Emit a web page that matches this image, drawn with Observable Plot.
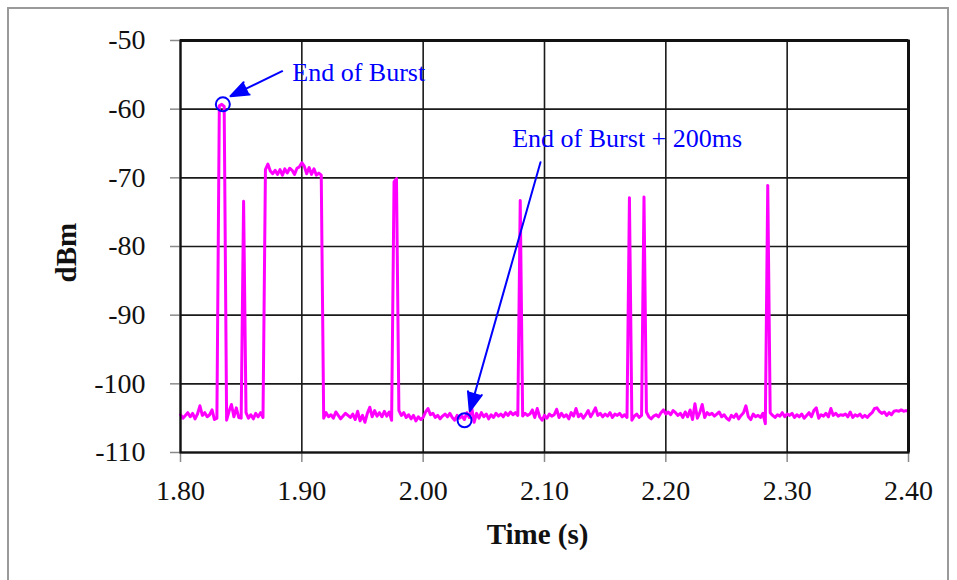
<!DOCTYPE html>
<html>
<head>
<meta charset="utf-8">
<script src="https://cdn.jsdelivr.net/npm/d3@7"></script>
<script src="https://cdn.jsdelivr.net/npm/@observablehq/plot@0.6"></script>
<style>
  html, body { margin: 0; padding: 0; background: #fff; }
  #chart { width: 957px; height: 580px; overflow: hidden; }
</style>
</head>
<body>
<div id="chart"></div>
<script>
// ---- Data ----
const t0 = 1.80;          // first sample time (s)
const dt = 0.002;         // sample spacing (s)
const dbm = [
  -104.5,-105,-104.6,-104.2,-104.8,-104.3,-105.1,-104.4,-103.2,-104.6,
  -104.2,-104.8,-104.5,-103.8,-105.2,-105.0,-59.5,-59.3,-59.6,-105.3,
  -104,-103,-104.8,-103.5,-104.9,-105,-73.4,-104.2,-105,-104.5,
  -105.1,-104.3,-104.8,-104.2,-104.9,-68.8,-68.0,-69.0,-69.4,-68.9,
  -69.5,-68.8,-69.6,-68.7,-69.3,-68.6,-68.9,-69.5,-68.6,-68.4,
  -67.8,-68.3,-69.4,-68.5,-69.5,-68.7,-69.6,-69.3,-69.6,-105.0,
  -104.2,-104.8,-104.5,-105,-104.1,-104.6,-105.1,-104.7,-104.3,-104.6,
  -104.9,-104.4,-105.2,-104,-105.4,-104.6,-105.6,-104.3,-103.4,-104.8,
  -103.9,-104.7,-104.2,-104.8,-104,-104.7,-104.1,-105.3,-70.6,-70.1,
  -103.9,-104.6,-104.2,-104.9,-104.5,-105.1,-104.6,-105.4,-104.8,-105.2,
  -104.9,-104.1,-103.6,-104.5,-104.3,-104.9,-104.6,-105.1,-104.7,-104.4,
  -104.8,-104.3,-104.9,-105.3,-104.6,-105,-104.7,-105.2,-104.2,-104.9,
  -103.5,-105.6,-104.3,-105,-104.2,-104.8,-104.4,-105.1,-104.5,-104.9,
  -104.3,-104.7,-104.4,-104.8,-104.2,-104.6,-104.1,-104.5,-104.2,-104.6,
  -73.3,-104.7,-104.3,-104.6,-104.4,-103.8,-104.9,-103.6,-104.8,-105.3,
  -104.6,-105,-104.4,-104.7,-104.5,-103.7,-104.9,-104.3,-104.8,-104.5,
  -105.1,-104.2,-104.7,-103.6,-104.8,-104.4,-105,-104.5,-103.9,-104.8,
  -104.2,-103.5,-104.6,-104.3,-104.8,-104.4,-104.7,-104.2,-104.9,-104.4,
  -104.6,-104.3,-104.8,-104.5,-104.9,-72.9,-105.3,-104.7,-104.4,-104.9,
  -104.6,-72.8,-104.1,-104.8,-105.1,-104.7,-104.5,-104.8,-104.2,-103.8,
  -104.4,-104.1,-104.5,-103.9,-104.2,-104.6,-104.3,-104.9,-104.1,-104.8,
  -103.8,-105.2,-102.9,-105,-104.2,-103,-104.9,-104.2,-104.5,-104.3,
  -104.7,-104.4,-104.1,-104.8,-104.5,-105,-105.3,-104.6,-104.9,-104.4,
  -105.1,-104.6,-104.2,-103.2,-104.8,-105.2,-104.4,-104.8,-104.6,-104.9,
  -104.3,-105.8,-71.1,-104.2,-104.6,-104.9,-104.5,-104.7,-104.2,-104.8,
  -104.4,-104.6,-104.3,-104.9,-104.5,-104.8,-104.4,-105,-104.6,-104.2,
  -104.8,-103.9,-103.5,-105,-104.5,-104.7,-104.3,-104.8,-103.6,-104.6,
  -104.3,-104.7,-104.5,-104.6,-104.4,-104.8,-104.1,-104.9,-104.5,-104.7,
  -104.4,-104.9,-104.6,-104.9,-104.5,-104.2,-103.6,-103.5,-104,-104.3,
  -104.1,-104.6,-104.2,-104.5,-104,-103.9,-104,-103.8,-104,-103.9,
  -104
];

const xTicks = [1.80, 1.90, 2.00, 2.10, 2.20, 2.30, 2.40];
const yTicks = [-110, -100, -90, -80, -70, -60, -50];

// annotations
const noteLabels   = ["End of Burst", "End of Burst + 200ms"];
const noteT        = [1.8921, 2.0734];
const noteDbm      = [-54.72, -64.23];
const markerT      = [1.8349, 2.0341];
const markerDbm    = [-59.3, -105.3];
const arrowFromT   = [1.8838, 2.0967];
const arrowFromDbm = [-54.47, -67.72];
const arrowToT     = [1.8412, 2.0384];
const arrowToDbm   = [-58.11, -103.98];

// ---- Tables ----
const signal = dbm.map((v, i) => ({t: t0 + i * dt, v}));
const notes = noteLabels.map((label, i) => ({label, t: noteT[i], v: noteDbm[i]}));
const markers = markerT.map((t, i) => ({t, v: markerDbm[i]}));
const arrows = arrowFromT.map((t, i) => ({
  x1: t, y1: arrowFromDbm[i], x2: arrowToT[i], y2: arrowToDbm[i]
}));

const serif = "'Liberation Serif', 'Times New Roman', Times, serif";
const blue = "#0000FF";

const chart = Plot.plot({
  width: 957,
  height: 580,
  marginLeft: 180,
  marginRight: 49,
  marginTop: 40,
  marginBottom: 128,
  style: {fontFamily: serif, fontSize: "28px", color: "#111", background: "#fff", overflow: "visible"},
  x: {domain: [1.80, 2.40]},
  y: {domain: [-110, -50]},
  marks: [
    Plot.gridX(xTicks, {stroke: "#1a1a1a", strokeOpacity: 1, strokeWidth: 1.6}),
    Plot.gridY(yTicks, {stroke: "#1a1a1a", strokeOpacity: 1, strokeWidth: 1.6}),
    Plot.axisX(xTicks, {tickSize: 10, tickPadding: 18, stroke: "#8a8a8a", strokeWidth: 1.5,
      tickFormat: d => d.toFixed(2), label: null, fill: "#111"}),
    Plot.axisY(yTicks, {tickSize: 10, tickPadding: 25, stroke: "#8a8a8a", strokeWidth: 1.5,
      tickFormat: d => String(d), label: null, fill: "#111"}),
    Plot.line(signal, {x: "t", y: "v", stroke: "#FF00FF", strokeWidth: 3, strokeLinejoin: "round"}),
    Plot.frame({stroke: "#111", strokeWidth: 2.2}),
    Plot.ruleY([-50], {stroke: "#111", strokeWidth: 3}),
    Plot.ruleX([2.40], {stroke: "#111", strokeWidth: 3}),
    Plot.dot(markers, {x: "t", y: "v", r: 7, stroke: blue, strokeWidth: 2, fill: "none"}),
    Plot.arrow(arrows, {x1: "x1", y1: "y1", x2: "x2", y2: "y2", stroke: blue, fill: blue,
      strokeWidth: 2, headLength: 15, headAngle: 42}),
    Plot.text(notes, {x: "t", y: "v", text: "label", fill: blue, fontSize: 26,
      textAnchor: "start", lineAnchor: "middle"}),
    Plot.text(["Time (s)"], {frameAnchor: "bottom", dx: -7, dy: 82, fontSize: 29,
      fontWeight: "bold", fill: "#111", lineAnchor: "middle"}),
    Plot.text(["dBm"], {frameAnchor: "left", dx: -114, dy: 36, rotate: -90, fontSize: 29,
      fontWeight: "bold", fill: "#111", lineAnchor: "middle"})
  ]
});

d3.select(chart).append("rect")
  .attr("x", 8).attr("y", 8).attr("width", 940).attr("height", 600)
  .attr("fill", "none").attr("stroke", "#9a9a9a").attr("stroke-width", 2);

document.getElementById("chart").appendChild(chart);
</script>
</body>
</html>
